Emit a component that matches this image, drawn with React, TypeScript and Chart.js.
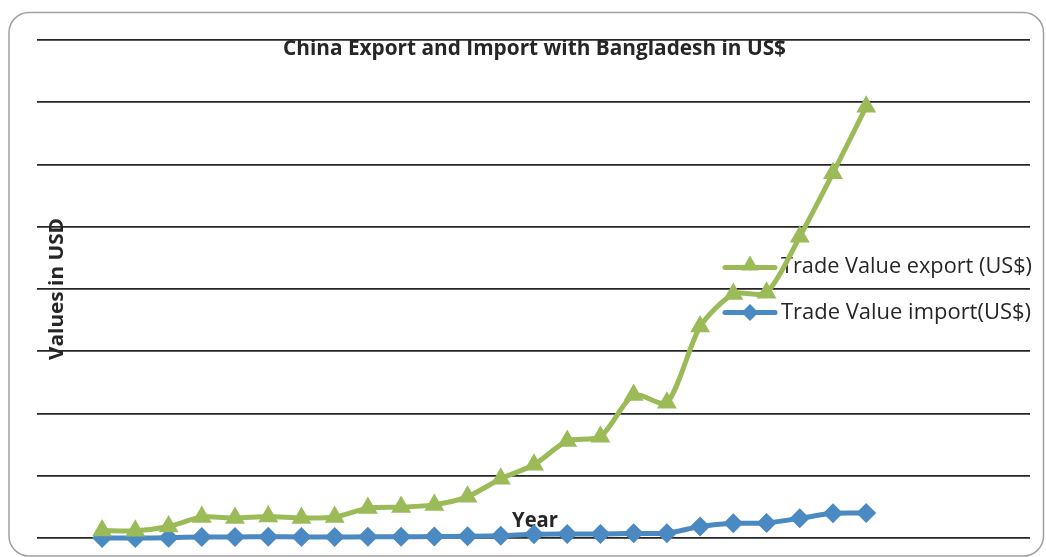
import React, { useEffect, useRef } from 'react';
import { Chart, registerables } from 'chart.js';

Chart.register(...registerables);

// ---- data ----
const years = [1995, 1996, 1997, 1998, 1999, 2000, 2001, 2002, 2003, 2004, 2005, 2006,
  2007, 2008, 2009, 2010, 2011, 2012, 2013, 2014, 2015, 2016, 2017, 2018];
// values in billions of US$
const exportValues = [0.3, 0.29, 0.46, 0.84, 0.8, 0.86, 0.8, 0.84, 1.2, 1.24, 1.33, 1.66,
  2.38, 2.94, 3.9, 4.07, 5.74, 5.43, 8.49, 9.8, 9.85, 12.1, 14.65, 17.32];
const importValues = [0.0, 0.0, 0.01, 0.04, 0.04, 0.05, 0.04, 0.04, 0.05, 0.05, 0.06, 0.07,
  0.09, 0.15, 0.16, 0.16, 0.19, 0.19, 0.46, 0.59, 0.6, 0.79, 0.99, 1.0];

const titleText = 'China Export and Import with Bangladesh in US$';
const yTitleText = 'Values in USD';
const xTitleText = 'Year';
const exportLabel = 'Trade Value export (US$)';
const importLabel = 'Trade Value import(US$)';

const GREEN = '#9BBB59';
const BLUE = '#4A89C1';
const TEXT = '#262626';
const FONT = '"Open Sans", "DejaVu Sans", sans-serif';

function drawFitted(
  ctx: CanvasRenderingContext2D, text: string, x: number, y: number, size: number,
  weight: string, width: number, rot: number, align: CanvasTextAlign,
) {
  ctx.save();
  ctx.translate(x, y);
  ctx.rotate(rot);
  ctx.font = `${weight} ${size}px ${FONT}`;
  const m = ctx.measureText(text).width;
  ctx.scale(width / m, 1);
  ctx.textAlign = align;
  ctx.textBaseline = 'alphabetic';
  ctx.fillStyle = TEXT;
  ctx.fillText(text, 0, 0);
  ctx.restore();
}

function triangle(ctx: CanvasRenderingContext2D, cx: number, cy: number, r: number) {
  ctx.beginPath();
  ctx.moveTo(cx, cy - r);
  ctx.lineTo(cx + r * Math.sin(Math.PI / 3), cy + r / 2);
  ctx.lineTo(cx - r * Math.sin(Math.PI / 3), cy + r / 2);
  ctx.closePath();
  ctx.fill();
}

function diamond(ctx: CanvasRenderingContext2D, cx: number, cy: number, r: number) {
  ctx.beginPath();
  ctx.moveTo(cx - r, cy);
  ctx.lineTo(cx, cy - r);
  ctx.lineTo(cx + r, cy);
  ctx.lineTo(cx, cy + r);
  ctx.closePath();
  ctx.fill();
}

const decorPlugin = {
  id: 'decor',
  beforeDraw(chart: Chart) {
    const ctx = chart.ctx;
    ctx.save();
    ctx.fillStyle = '#ffffff';
    ctx.fillRect(0, 0, chart.width, chart.height);

    // rounded outer frame
    const x0 = 9, y0 = 12.5, x1 = 1043.5, y1 = 556, r = 20;
    ctx.beginPath();
    ctx.moveTo(x0 + r, y0);
    ctx.lineTo(x1 - r, y0);
    ctx.arcTo(x1, y0, x1, y0 + r, r);
    ctx.lineTo(x1, y1 - r);
    ctx.arcTo(x1, y1, x1 - r, y1, r);
    ctx.lineTo(x0 + r, y1);
    ctx.arcTo(x0, y1, x0, y1 - r, r);
    ctx.lineTo(x0, y0 + r);
    ctx.arcTo(x0, y0, x0 + r, y0, r);
    ctx.closePath();
    ctx.strokeStyle = '#a0a0a0';
    ctx.lineWidth = 1.5;
    ctx.stroke();

    // titles
    drawFitted(ctx, titleText, 534.5, 55, 21, 'bold', 503, 0, 'center');
    drawFitted(ctx, yTitleText, 63, 289, 20, 'bold', 142, -Math.PI / 2, 'center');
    drawFitted(ctx, xTitleText, 535, 527, 21, 'bold', 46, 0, 'center');

    // legend
    ctx.lineCap = 'round';
    ctx.lineWidth = 5;
    ctx.strokeStyle = GREEN;
    ctx.beginPath();
    ctx.moveTo(725, 267.5);
    ctx.lineTo(775, 267.5);
    ctx.stroke();
    ctx.fillStyle = GREEN;
    triangle(ctx, 750, 265.5, 10);
    ctx.strokeStyle = BLUE;
    ctx.beginPath();
    ctx.moveTo(725, 312.5);
    ctx.lineTo(775, 312.5);
    ctx.stroke();
    ctx.fillStyle = BLUE;
    diamond(ctx, 750, 312.5, 8.5);
    drawFitted(ctx, exportLabel, 781, 273.3, 22, 'normal', 251, 0, 'left');
    drawFitted(ctx, importLabel, 781, 319.3, 22, 'normal', 250, 0, 'left');
    ctx.restore();
  },
};

export default function App() {
  const canvasRef = useRef<HTMLCanvasElement | null>(null);

  useEffect(() => {
    if (!canvasRef.current) return;
    const chart = new Chart(canvasRef.current, {
      type: 'line',
      data: {
        datasets: [
          {
            label: exportLabel,
            data: years.map((yr, i) => ({ x: yr, y: exportValues[i] })),
            borderColor: GREEN,
            backgroundColor: GREEN,
            borderWidth: 5,
            tension: 0.25,
            pointStyle: 'triangle',
            pointRadius: 11.5,
            pointBorderWidth: 0,
            pointBackgroundColor: GREEN,
            clip: false,
          },
          {
            label: importLabel,
            data: years.map((yr, i) => ({ x: yr, y: importValues[i] })),
            borderColor: BLUE,
            backgroundColor: BLUE,
            borderWidth: 5,
            tension: 0.25,
            pointStyle: 'rectRot',
            pointRadius: 10,
            pointBorderWidth: 0,
            pointBackgroundColor: BLUE,
            clip: false,
          },
        ],
      },
      options: {
        responsive: false,
        animation: false,
        devicePixelRatio: 1,
        layout: { padding: { left: 37, right: 16, top: 40, bottom: 19 } },
        plugins: {
          legend: { display: false },
          title: { display: false },
          tooltip: { enabled: false },
        },
        scales: {
          x: {
            type: 'linear',
            min: 1993.04,
            max: 2022.93,
            display: false,
          },
          y: {
            type: 'linear',
            min: 0,
            max: 20,
            ticks: { display: false, stepSize: 2.5 },
            grid: { drawTicks: false, color: '#262626', lineWidth: 1.8 },
            border: { display: false },
          },
        },
      },
      plugins: [decorPlugin],
    });
    return () => chart.destroy();
  }, []);

  return (
    <div style={{ position: 'absolute', left: 0, top: 0, width: 1046, height: 557 }}>
      <canvas ref={canvasRef} width={1046} height={557} style={{ display: 'block' }} />
    </div>
  );
}
